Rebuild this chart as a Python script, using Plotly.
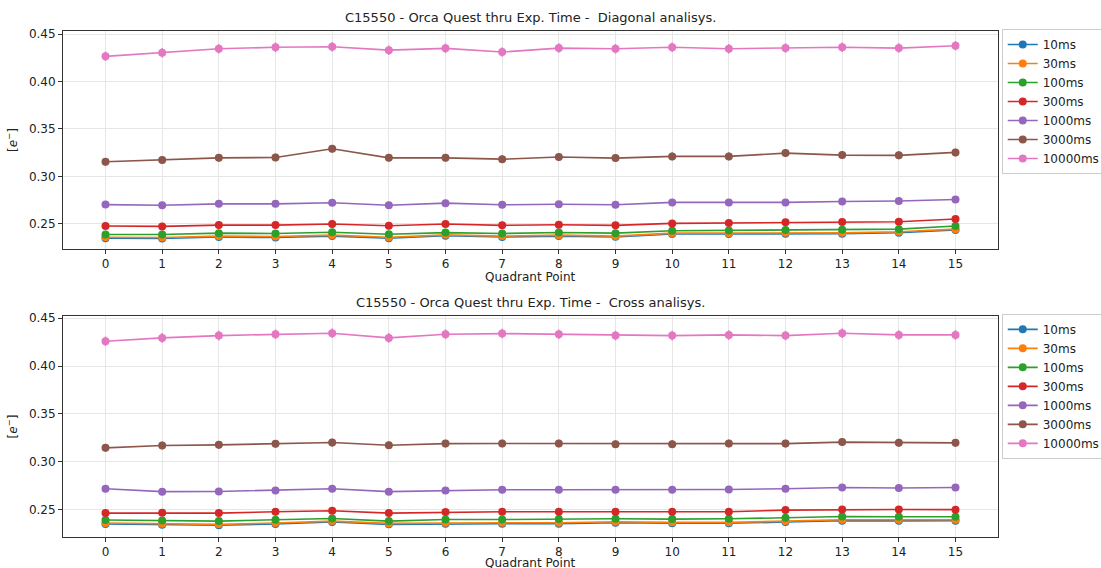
import plotly.graph_objects as go

## Quadrant points on the x axis
quadrant_points = list(range(16))
exposure_labels = ['10ms', '30ms', '100ms', '300ms', '1000ms', '3000ms', '10000ms']
colors = ['#1f77b4', '#ff7f0e', '#2ca02c', '#d62728', '#9467bd', '#8c564b', '#e377c2']

## Diagonal analysis (top panel)
diag_10ms = [0.2348, 0.2345, 0.2360, 0.2355, 0.2370, 0.2348, 0.2373, 0.2360, 0.2370, 0.2362, 0.2392, 0.2392, 0.2395, 0.2395, 0.2405, 0.2435]
diag_30ms = [0.2358, 0.2355, 0.2370, 0.2365, 0.2380, 0.2358, 0.2383, 0.2370, 0.2380, 0.2370, 0.2401, 0.2401, 0.2404, 0.2404, 0.2415, 0.2443]
diag_100ms = [0.2386, 0.2386, 0.2401, 0.2397, 0.2411, 0.2390, 0.2407, 0.2397, 0.2408, 0.2401, 0.2426, 0.2429, 0.2433, 0.2436, 0.2443, 0.2476]
diag_300ms = [0.2476, 0.2472, 0.2486, 0.2486, 0.2497, 0.2479, 0.2497, 0.2483, 0.2489, 0.2483, 0.2504, 0.2508, 0.2515, 0.2518, 0.2521, 0.2550]
diag_1000ms = [0.2702, 0.2695, 0.2710, 0.2710, 0.2722, 0.2695, 0.2717, 0.2700, 0.2705, 0.2700, 0.2725, 0.2725, 0.2725, 0.2734, 0.2740, 0.2755]
diag_3000ms = [0.3153, 0.3171, 0.3195, 0.3199, 0.3290, 0.3195, 0.3195, 0.3181, 0.3203, 0.3192, 0.3210, 0.3210, 0.3245, 0.3224, 0.3221, 0.3252]
diag_10000ms = [0.4265, 0.4303, 0.4345, 0.4360, 0.4366, 0.4330, 0.4349, 0.4310, 0.4352, 0.4345, 0.4360, 0.4345, 0.4352, 0.4360, 0.4352, 0.4377]

## Cross analysis (bottom panel)
cross_10ms = [0.2350, 0.2343, 0.2337, 0.2350, 0.2370, 0.2346, 0.2353, 0.2353, 0.2353, 0.2363, 0.2357, 0.2357, 0.2370, 0.2385, 0.2383, 0.2385]
cross_30ms = [0.2360, 0.2353, 0.2346, 0.2360, 0.2380, 0.2356, 0.2363, 0.2363, 0.2363, 0.2373, 0.2367, 0.2367, 0.2380, 0.2394, 0.2394, 0.2394]
cross_100ms = [0.2391, 0.2387, 0.2380, 0.2394, 0.2408, 0.2380, 0.2397, 0.2397, 0.2401, 0.2404, 0.2401, 0.2404, 0.2415, 0.2429, 0.2425, 0.2425]
cross_300ms = [0.2464, 0.2467, 0.2464, 0.2478, 0.2488, 0.2464, 0.2474, 0.2478, 0.2478, 0.2478, 0.2478, 0.2478, 0.2495, 0.2502, 0.2502, 0.2500]
cross_1000ms = [0.2719, 0.2688, 0.2690, 0.2701, 0.2719, 0.2688, 0.2701, 0.2708, 0.2708, 0.2708, 0.2708, 0.2710, 0.2719, 0.2732, 0.2726, 0.2732]
cross_3000ms = [0.3146, 0.3170, 0.3177, 0.3188, 0.3201, 0.3173, 0.3190, 0.3191, 0.3191, 0.3184, 0.3184, 0.3191, 0.3190, 0.3206, 0.3200, 0.3198]
cross_10000ms = [0.4260, 0.4295, 0.4319, 0.4333, 0.4344, 0.4295, 0.4333, 0.4340, 0.4333, 0.4319, 0.4319, 0.4326, 0.4319, 0.4344, 0.4326, 0.4326]

## Half-length of the error bars for each exposure
error_sizes = [0.0015, 0.0015, 0.0015, 0.0015, 0.002, 0.004, 0.005]

diag_series = [diag_10ms, diag_30ms, diag_100ms, diag_300ms, diag_1000ms, diag_3000ms, diag_10000ms]
cross_series = [cross_10ms, cross_30ms, cross_100ms, cross_300ms, cross_1000ms, cross_3000ms, cross_10000ms]

FONT = 'DejaVu Sans'
TEXT = dict(family=FONT, size=12, color='#222222')

fig = go.Figure()

## Plot the data.
for panel, series_list in (('', diag_series), ('2', cross_series)):
    for label, color, err, values in zip(exposure_labels, colors, error_sizes, series_list):
        fig.add_trace(go.Scatter(x=quadrant_points, y=values,
                                 mode='lines+markers', name=label,
                                 xaxis='x' + panel, yaxis='y' + panel,
                                 legend='legend' + panel,
                                 line=dict(color=color, width=1.6),
                                 marker=dict(color=color, size=8),
                                 error_y=dict(type='constant', value=err,
                                              color=color, thickness=1.5, width=0)))

axis_style = dict(showline=True, linecolor='#333333', linewidth=1, mirror=True,
                  ticks='outside', ticklen=4, tickcolor='#333333',
                  showgrid=True, gridcolor='#e6e6e6', gridwidth=1, zeroline=False,
                  tickfont=TEXT)

x_style = dict(axis_style, range=[-0.75, 15.75], tickmode='array', tickvals=quadrant_points)
y_style = dict(axis_style, tickmode='array', tickvals=[0.25, 0.30, 0.35, 0.40, 0.45],
               ticktext=['0.25', '0.30', '0.35', '0.40', '0.45'],
               title=dict(text='[<i>e</i><sup>−</sup>]', font=TEXT, standoff=8))

legend_style = dict(x=1.004, xanchor='left', yanchor='top', bgcolor='white',
                    bordercolor='#cccccc', borderwidth=1, itemwidth=30, font=TEXT)

top_domain = [0.569, 1]
bottom_domain = [0, 0.4368]

annotations = []
for title, domain, shift in (('C15550 - Orca Quest thru Exp. Time -  Diagonal analisys.', top_domain, -19),
                             ('C15550 - Orca Quest thru Exp. Time -  Cross analisys.', bottom_domain, -17)):
    annotations.append(dict(text=title, x=0.5, y=domain[1], xref='paper', yref='paper',
                            xanchor='center', yanchor='bottom', yshift=4, showarrow=False,
                            font=dict(family=FONT, size=13, color='#222222')))
    annotations.append(dict(text='Quadrant Point', x=0.5, y=domain[0], xref='paper', yref='paper',
                            xanchor='center', yanchor='top', yshift=shift, showarrow=False,
                            font=TEXT))

fig.update_layout(
    width=1101, height=568,
    margin=dict(l=63, r=103, t=31, b=31, autoexpand=False),
    paper_bgcolor='white', plot_bgcolor='white',
    font=TEXT,
    xaxis=dict(x_style, domain=[0, 1], anchor='y'),
    yaxis=dict(y_style, domain=top_domain, range=[0.2233, 0.4532], anchor='x'),
    xaxis2=dict(x_style, domain=[0, 1], anchor='y2'),
    yaxis2=dict(y_style, domain=bottom_domain, range=[0.2214, 0.4524], anchor='x2'),
    legend=dict(legend_style, y=1.004),
    legend2=dict(legend_style, y=0.441),
    annotations=annotations,
)

## Drop the default page margin so the figure sits at the window corner.
fig.write_html('out.html', config={'displayModeBar': False},
               post_script="document.body.style.margin='0';")
